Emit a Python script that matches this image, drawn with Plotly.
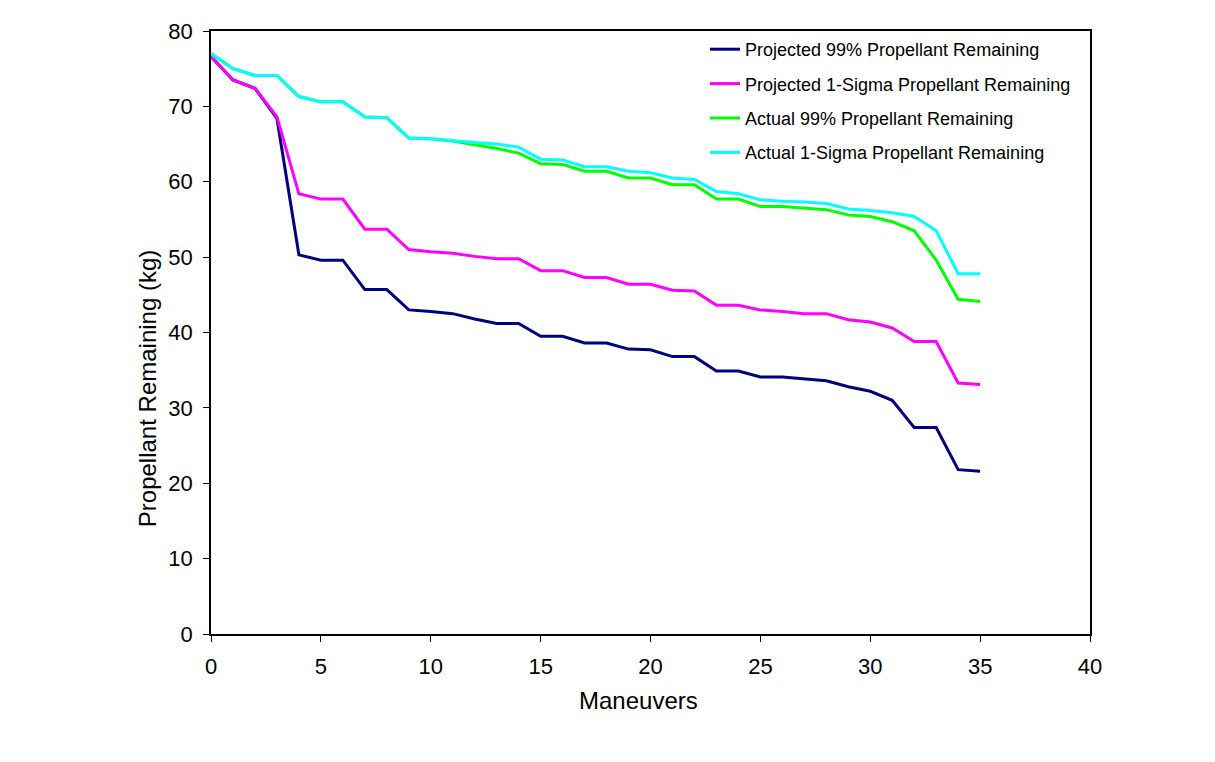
import plotly.graph_objects as go

maneuvers = list(range(0, 36))

proj_99 = [76.6, 73.5, 72.4, 68.4, 50.3, 49.6, 49.6, 45.7, 45.7, 43.0,
           42.8, 42.5, 41.8, 41.2, 41.2, 39.5, 39.5, 38.6, 38.6, 37.8,
           37.7, 36.8, 36.8, 34.9, 34.9, 34.1, 34.1, 33.8, 33.6, 32.8,
           32.2, 31.0, 27.4, 27.4, 21.8, 21.6]

proj_1sig = [76.6, 73.5, 72.4, 68.6, 58.4, 57.7, 57.7, 53.7, 53.7, 51.0,
             50.7, 50.5, 50.1, 49.8, 49.8, 48.2, 48.2, 47.3, 47.3, 46.4,
             46.4, 45.6, 45.5, 43.6, 43.6, 43.0, 42.8, 42.5, 42.5, 41.7,
             41.4, 40.6, 38.8, 38.8, 33.3, 33.1]

act_99 = [77.0, 75.0, 74.1, 74.1, 71.3, 70.6, 70.6, 68.6, 68.5, 65.8,
          65.7, 65.4, 64.9, 64.4, 63.8, 62.4, 62.3, 61.4, 61.4, 60.5,
          60.5, 59.6, 59.6, 57.7, 57.7, 56.7, 56.7, 56.5, 56.3, 55.6,
          55.4, 54.7, 53.5, 49.6, 44.4, 44.1]

act_1sig = [77.0, 75.0, 74.1, 74.1, 71.3, 70.6, 70.6, 68.6, 68.5, 65.8,
            65.7, 65.4, 65.2, 65.0, 64.6, 63.0, 62.9, 62.0, 62.0, 61.4,
            61.2, 60.5, 60.3, 58.7, 58.4, 57.6, 57.4, 57.3, 57.1, 56.4,
            56.2, 55.9, 55.4, 53.5, 47.8, 47.8]

series = [
    ("Projected 99% Propellant Remaining", proj_99, "#000080"),
    ("Projected 1-Sigma Propellant Remaining", proj_1sig, "#FF00FF"),
    ("Actual 99% Propellant Remaining", act_99, "#00FF00"),
    ("Actual 1-Sigma Propellant Remaining", act_1sig, "#00FFFF"),
]

x_title = "Maneuvers"
y_title = "Propellant Remaining (kg)"

fig = go.Figure()
for i, (name, vals, col) in enumerate(series):
    fig.add_trace(go.Scatter(
        x=maneuvers, y=vals, mode="lines", name=name,
        legendgroup=f"g{i}",
        line=dict(color=col, width=3),
    ))

font_family = "Liberation Sans, Arial, sans-serif"

fig.update_layout(
    width=1215, height=762,
    paper_bgcolor="white", plot_bgcolor="white",
    margin=dict(l=203, r=133, t=23, b=136),
    font=dict(family=font_family, color="black"),
    showlegend=True,
    legend=dict(
        x=0.562, y=1.0, xanchor="left", yanchor="top",
        font=dict(size=18, family=font_family, color="black"),
        bgcolor="rgba(255,255,255,0)", borderwidth=0,
        tracegroupgap=8, itemwidth=30,
    ),
    xaxis=dict(
        range=[0, 40], dtick=5, tick0=0,
        showgrid=False, zeroline=False,
        showline=True, linecolor="black", linewidth=1.5, mirror=True,
        ticks="outside", ticklen=6, tickcolor="black",
        tickfont=dict(size=22), ticklabelstandoff=6,
    ),
    yaxis=dict(
        range=[0, 80], dtick=10, tick0=0,
        showgrid=False, zeroline=False,
        showline=True, linecolor="black", linewidth=1.5, mirror=True,
        ticks="outside", ticklen=6, tickcolor="black",
        tickfont=dict(size=22), ticklabelstandoff=6,
    ),
    annotations=[
        dict(text=x_title, xref="paper", yref="paper", x=0.4869, y=-0.1095,
             xanchor="center", yanchor="middle", showarrow=False,
             font=dict(size=24, family=font_family, color="black")),
        dict(text=y_title, xref="paper", yref="paper", x=-0.0728, y=0.406,
             xanchor="center", yanchor="middle", showarrow=False, textangle=-90,
             font=dict(size=24, family=font_family, color="black")),
    ],
)

fig.write_html("out.html")
